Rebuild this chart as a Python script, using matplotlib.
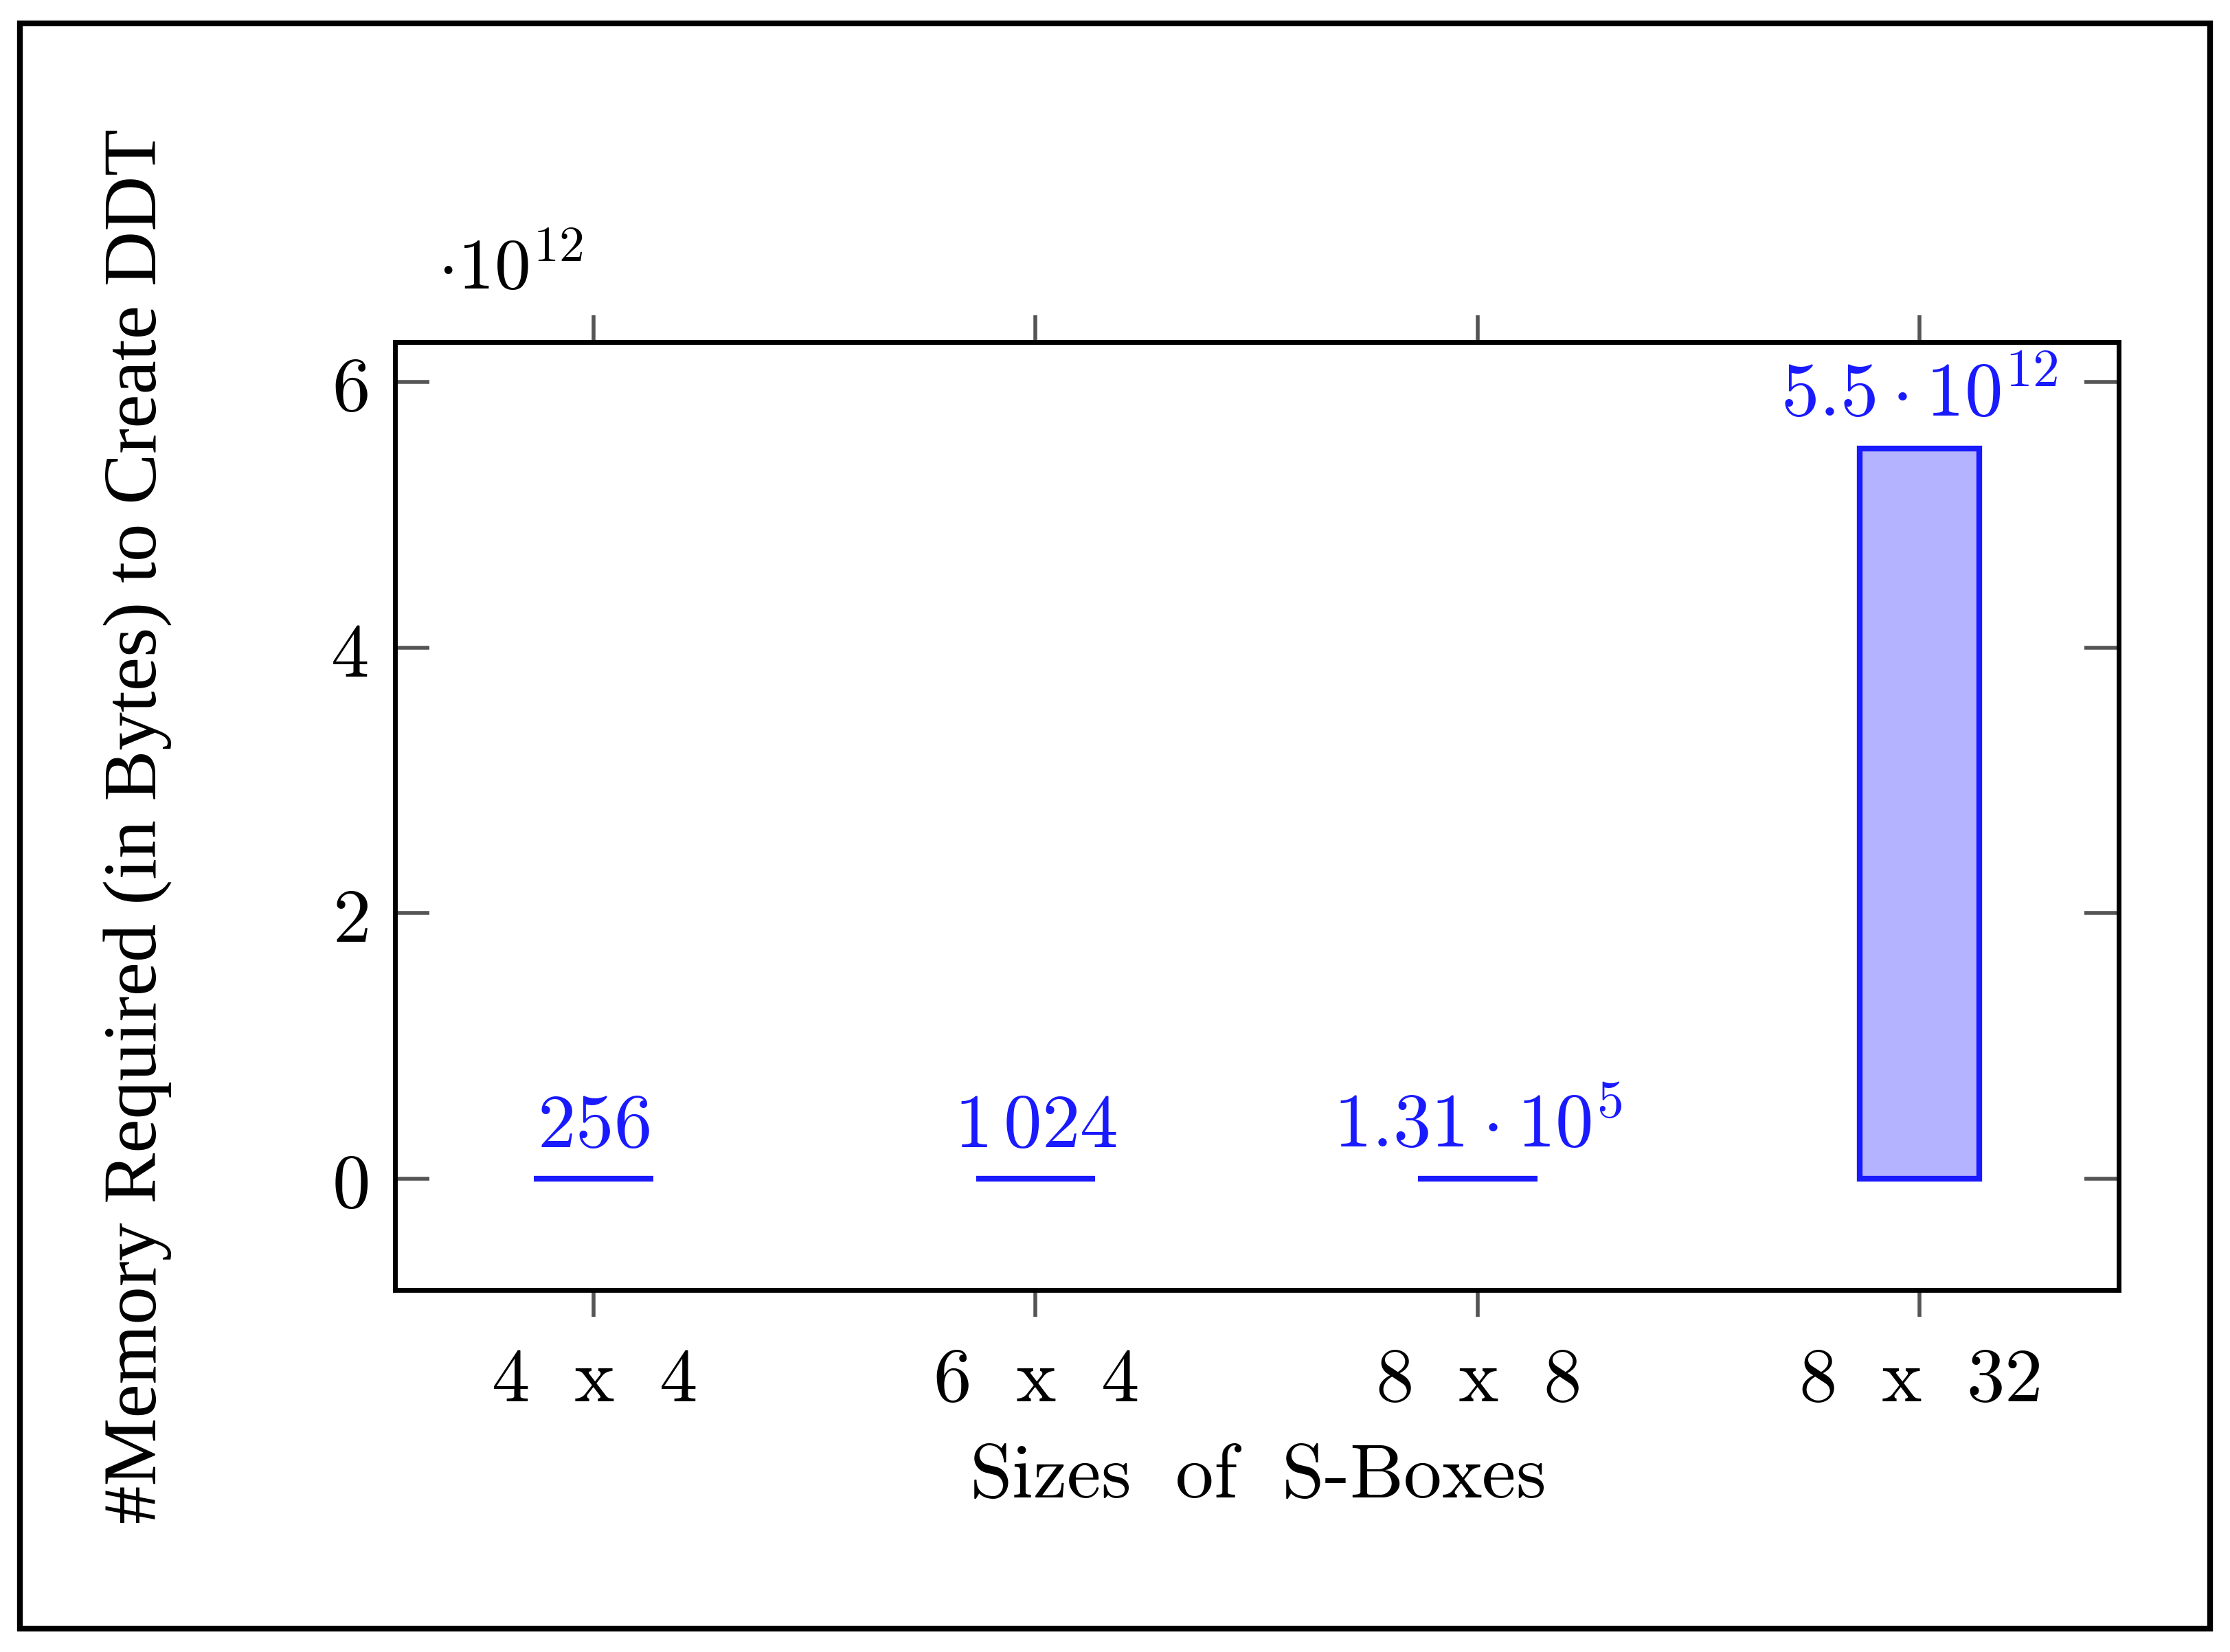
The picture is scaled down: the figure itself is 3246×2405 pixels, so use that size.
import matplotlib
matplotlib.use('Agg')
import matplotlib.pyplot as plt
from matplotlib.patches import Rectangle

# data
sizes = ['4 x 4', '6 x 4', '8 x 8', '8 x 32']
memory = [256, 1024, 1.31e5, 5.5e12]
labels = ['$256$', '$1\\,024$', '$1.31\\cdot10^{5}$', '$5.5\\cdot10^{12}$']

plt.rcParams['font.family'] = 'DejaVu Serif'
plt.rcParams['mathtext.fontset'] = 'cm'

fig = plt.figure(figsize=(16.23, 12.025), dpi=200)
ax = fig.add_axes([0.177, 0.219, 0.773, 0.574])
fig.patches.append(Rectangle((0.009, 0.014), 0.982, 0.972, transform=fig.transFigure,
                             fill=False, ec='black', lw=3))

x = range(len(sizes))
scale = 1e12
vals = [v / scale for v in memory]
ax.bar(x, vals, width=0.27, color='#b3b3ff', edgecolor='#1a1aff', linewidth=3)
for i, (v, t) in enumerate(zip(vals, labels)):
    ax.text(i, v + 0.12, t, ha='center', va='bottom', color='#1a1aff', fontsize=40)

ax.set_xlim(-0.45, 3.45)
ax.set_ylim(-0.84, 6.3)
ax.set_xticks(list(x))
ax.set_xticklabels(['$\\mathrm{' + s.replace(' ', '\\ \\ ') + '}$' for s in sizes], fontsize=40)
ax.set_yticks([0, 2, 4, 6])
ax.set_yticklabels(['$0$', '$2$', '$4$', '$6$'], fontsize=40)
ax.tick_params(axis='x', direction='out', length=14, width=2, top=True, color='#555555', pad=14)
ax.tick_params(axis='y', direction='in', length=18, width=2, right=True, color='#555555', pad=14)
for s in ax.spines.values():
    s.set_linewidth(2.5)
ax.text(0.025, 1.04, '$\\cdot10^{12}$', transform=ax.transAxes, fontsize=38, va='bottom')

ax.set_xlabel('$\\mathrm{Sizes\\ \\ of\\ \\ S\\text{-}Boxes}$', fontsize=40, labelpad=12)
fig.text(0.062, 0.5, '#Memory Required (in Bytes) to Create DDT', rotation=90,
         ha='center', va='center', fontsize=40, family='Liberation Serif')

fig.savefig('out.png', dpi=200)
